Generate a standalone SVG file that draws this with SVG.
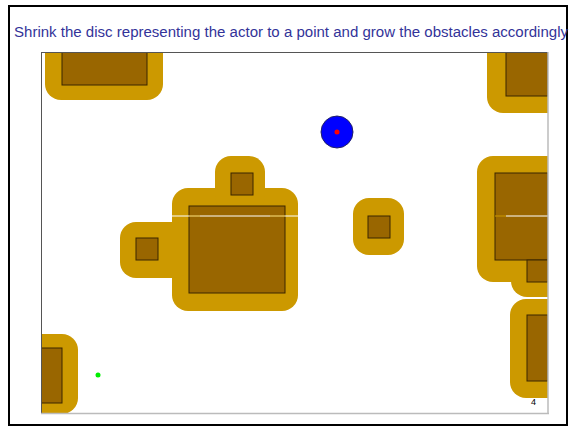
<svg xmlns="http://www.w3.org/2000/svg" width="569" height="426" viewBox="0 0 569 426">
<style>
.grow{fill:#CC9900}
.obs{fill:#996600;stroke:#3a2600;stroke-width:1}
.title{font-family:"Liberation Sans","DejaVu Sans",sans-serif;font-size:14px;fill:#333399}
</style>
<defs>
<clipPath id="area"><rect x="41" y="52" width="507" height="361"/></clipPath>
</defs>
<rect x="0" y="0" width="569" height="426" fill="#fff"/>
<rect x="9" y="6" width="558" height="419" fill="none" stroke="#000" stroke-width="2"/>
<text class="title" x="14" y="37" textLength="554" lengthAdjust="spacingAndGlyphs">Shrink the disc representing the actor to a point and grow the obstacles accordingly</text>
<g id="workspace" clip-path="url(#area)">
<g id="obstacle-topleft">
<rect class="grow" x="45" y="30" width="118" height="70" rx="16"/>
<rect class="obs" x="62" y="40" width="85" height="45"/>
</g>
<g id="obstacle-topright">
<rect class="grow" x="487" y="30" width="80" height="83" rx="16"/>
<rect class="obs" x="506" y="40" width="42" height="56"/>
</g>
<g id="obstacle-cluster">
<rect class="grow" x="172" y="188" width="126" height="123" rx="16"/>
<rect class="grow" x="215" y="156" width="50" height="56" rx="16"/>
<rect class="grow" x="120" y="222" width="70" height="56" rx="16"/>
<rect class="obs" x="189" y="206" width="96" height="87"/>
<rect class="obs" x="231" y="173" width="22" height="22"/>
<rect class="obs" x="136" y="238" width="22" height="22"/>
<line x1="172" y1="216" x2="298" y2="216" stroke="#fff" stroke-width="1"/>
<line x1="189" y1="216" x2="200" y2="216" stroke="#CC9900" stroke-width="1"/>
<line x1="270" y1="216" x2="285" y2="216" stroke="#CC9900" stroke-width="1"/>
</g>
<g id="obstacle-center">
<rect class="grow" x="353" y="198" width="51" height="57" rx="16"/>
<rect class="obs" x="368" y="216" width="22" height="22"/>
</g>
<g id="obstacle-right">
<rect class="grow" x="477" y="156" width="90" height="126" rx="16"/>
<rect class="grow" x="511" y="244" width="56" height="53" rx="16"/>
<rect class="obs" x="495" y="173" width="53" height="87"/>
<rect class="obs" x="527" y="260" width="21" height="22"/>
<line x1="506" y1="216" x2="548" y2="216" stroke="#fff" stroke-width="1"/>
<line x1="495" y1="216" x2="506" y2="216" stroke="#CC9900" stroke-width="1"/>
</g>
<g id="obstacle-bottomright">
<rect class="grow" x="510" y="299" width="57" height="99" rx="16"/>
<rect class="obs" x="527" y="315" width="21" height="66"/>
</g>
<g id="obstacle-bottomleft">
<rect class="grow" x="20" y="334" width="58" height="80" rx="16"/>
<rect class="obs" x="30" y="348" width="32" height="55"/>
</g>
</g>
<g id="frame">
<line x1="41" y1="52.5" x2="548" y2="52.5" stroke="#555" stroke-width="1"/>
<line x1="41.5" y1="52" x2="41.5" y2="413" stroke="#555" stroke-width="1"/>
<line x1="548" y1="52" x2="548" y2="414" stroke="#bbb" stroke-width="1.5"/>
<line x1="41" y1="413.5" x2="549" y2="413.5" stroke="#bbb" stroke-width="1.5"/>
</g>
<g id="actor">
<circle cx="337" cy="132" r="16" fill="#0000ff" stroke="#222266" stroke-width="1"/>
<circle cx="337" cy="132" r="2.5" fill="#ff0000"/>
</g>
<g id="goal">
<circle cx="98" cy="375" r="2.5" fill="#00ee00"/>
</g>
<text x="531" y="405" font-family="Liberation Sans, sans-serif" font-size="9" fill="#000">4</text>
</svg>
